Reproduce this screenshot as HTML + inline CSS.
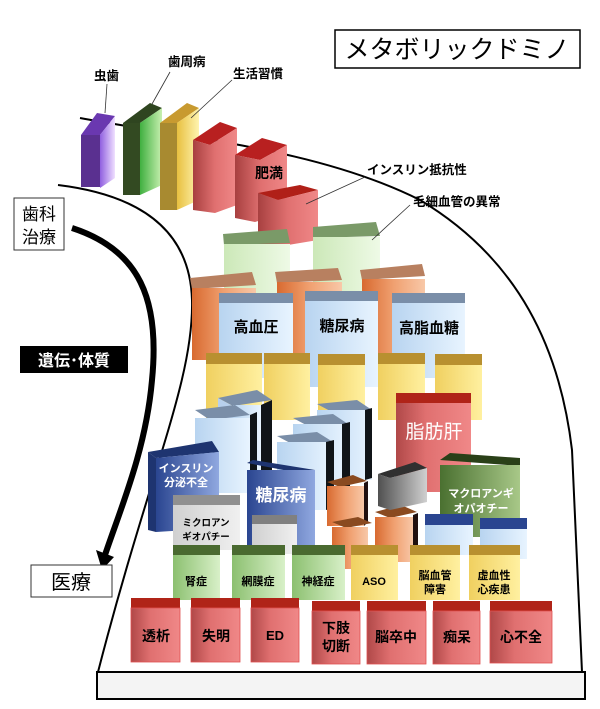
<!DOCTYPE html>
<html><head><meta charset="utf-8"><style>
body{margin:0;background:#fff}
svg{display:block}
text{font-family:"Liberation Sans","Noto Sans CJK JP",sans-serif}
</style></head><body>
<svg width="600" height="709" viewBox="0 0 600 709" xmlns="http://www.w3.org/2000/svg">
<defs>
<linearGradient id="gP" x1="0" x2="1"><stop offset="0" stop-color="#9060e0"/><stop offset="1" stop-color="#f0e0ff"/></linearGradient>
<linearGradient id="gG" x1="0" x2="1"><stop offset="0" stop-color="#40b040"/><stop offset="1" stop-color="#c8f0b0"/></linearGradient>
<linearGradient id="gY" x1="0" x2="1"><stop offset="0" stop-color="#e8c040"/><stop offset="1" stop-color="#fff4b0"/></linearGradient>
<linearGradient id="gR" x1="0" x2="1"><stop offset="0" stop-color="#a84040"/><stop offset="0.5" stop-color="#e07070"/><stop offset="1" stop-color="#f08888"/></linearGradient>
<linearGradient id="gLG" x1="0" x2="1"><stop offset="0" stop-color="#cce8b8"/><stop offset="1" stop-color="#eefae6"/></linearGradient>
<linearGradient id="gO" x1="0" x2="1"><stop offset="0" stop-color="#d86a30"/><stop offset="0.5" stop-color="#f0a070"/><stop offset="1" stop-color="#f8c8a8"/></linearGradient>
<linearGradient id="gB" x1="0" x2="1"><stop offset="0" stop-color="#b8d4f0"/><stop offset="1" stop-color="#e8f4ff"/></linearGradient>
<linearGradient id="gYe" x1="0" x2="1"><stop offset="0" stop-color="#f0d060"/><stop offset="1" stop-color="#fff0a0"/></linearGradient>
<linearGradient id="gN" x1="0" x2="1"><stop offset="0" stop-color="#2a4590"/><stop offset="1" stop-color="#90a8e0"/></linearGradient>
<linearGradient id="gGr" x1="0" x2="1"><stop offset="0" stop-color="#d0d0d0"/><stop offset="1" stop-color="#f0f0f0"/></linearGradient>
<linearGradient id="gDG" x1="0" x2="1"><stop offset="0" stop-color="#505050"/><stop offset="1" stop-color="#d0d0d0"/></linearGradient>
<linearGradient id="gMG" x1="0" x2="1"><stop offset="0" stop-color="#4a7030"/><stop offset="1" stop-color="#a8c888"/></linearGradient>
<linearGradient id="gGn" x1="0" x2="1"><stop offset="0" stop-color="#8cc070"/><stop offset="1" stop-color="#d8f0c8"/></linearGradient>
<linearGradient id="gRd" x1="0" x2="1"><stop offset="0" stop-color="#b04848"/><stop offset="0.4" stop-color="#e07070"/><stop offset="1" stop-color="#f08888"/></linearGradient>
</defs>

<path d="M80,118 C200,140 320,150 420,200 C520,260 560,350 572,450 L582,672" fill="none" stroke="#000" stroke-width="2"/>
<path d="M58,185 C140,195 190,230 192,300 C194,380 150,470 98,672" fill="none" stroke="#000" stroke-width="2"/>
<path d="M72,228 C140,250 160,300 152,380 C146,450 120,510 105,555" fill="none" stroke="#000" stroke-width="6"/>
<polygon points="96,550 114,557 102,570" fill="#000"/>

<polygon points="97,672 585,672 585,699 97,699" fill="#f4f4f4" stroke="#000" stroke-width="2"/>

<polygon points="81,135 97,113 115,116 100,135" fill="#6a38b0"/>
<rect x="81" y="135" width="19" height="52" fill="#5a3090"/>
<polygon points="100,135 115,116 115,178 100,188" fill="url(#gP)"/>

<polygon points="123,123 150,103 162,108 140,123" fill="#2f4520"/>
<rect x="123" y="123" width="17" height="72" fill="#334a22"/>
<polygon points="140,123 162,108 162,185 140,195" fill="url(#gG)"/>

<polygon points="160,123 187,103 199,108 177,123" fill="#c89a30"/>
<rect x="160" y="123" width="17" height="87" fill="#a88a30"/>
<polygon points="177,123 199,108 199,200 177,210" fill="url(#gY)"/>

<polygon points="193,140 220,122 237,128 210,145" fill="#b82020"/>
<polygon points="193,140 210,145 237,128 237,205 215,213 193,210" fill="url(#gR)"/>

<polygon points="235,155 262,138 287,145 260,160" fill="#b82020"/>
<polygon points="235,155 260,160 287,145 287,212 255,222 235,218" fill="url(#gR)"/>

<polygon points="258,193 300,185 318,190 278,200" fill="#b02018"/>
<polygon points="258,193 278,200 318,190 318,240 258,250" fill="url(#gR)"/>

<polygon points="223,234 287,229 290,243 224,245" fill="#7a9a68"/>
<rect x="224" y="244" width="66" height="56" fill="url(#gLG)"/>
<polygon points="313,227 376,222 380,236 313,238" fill="#7a9a68"/>
<rect x="313" y="237" width="67" height="63" fill="url(#gLG)"/>

<polygon points="190,278 252,272 256,285 192,289" fill="#b88060"/>
<rect x="192" y="288" width="64" height="72" fill="url(#gO)"/>
<polygon points="275,272 338,268 342,280 277,283" fill="#b88060"/>
<rect x="277" y="282" width="65" height="78" fill="url(#gO)"/>
<polygon points="360,270 422,264 425,276 362,280" fill="#b88060"/>
<rect x="362" y="279" width="63" height="81" fill="url(#gO)"/>

<g font-weight="bold">
<rect x="219" y="293" width="74" height="10" fill="#7a8ea8"/>
<rect x="219" y="303" width="74" height="75" fill="url(#gB)"/>
<text x="256" y="332" font-size="15" text-anchor="middle">高血圧</text>
<rect x="305" y="291" width="73" height="10" fill="#7a8ea8"/>
<rect x="305" y="301" width="73" height="86" fill="url(#gB)"/>
<text x="342" y="331" font-size="15" text-anchor="middle">糖尿病</text>
<rect x="392" y="293" width="73" height="10" fill="#7a8ea8"/>
<rect x="392" y="303" width="73" height="75" fill="url(#gB)"/>
<text x="429" y="333" font-size="15" text-anchor="middle">高脂血糖</text>
</g>

<g>
<rect x="206" y="353" width="56" height="11" fill="#b89030"/><rect x="206" y="364" width="56" height="56" fill="url(#gYe)"/>
<rect x="264" y="353" width="46" height="11" fill="#b89030"/><rect x="264" y="364" width="46" height="56" fill="url(#gYe)"/>
<rect x="318" y="354" width="47" height="11" fill="#b89030"/><rect x="318" y="365" width="47" height="55" fill="url(#gYe)"/>
<rect x="378" y="353" width="47" height="11" fill="#b89030"/><rect x="378" y="364" width="47" height="56" fill="url(#gYe)"/>
<rect x="435" y="354" width="47" height="11" fill="#b89030"/><rect x="435" y="365" width="47" height="55" fill="url(#gYe)"/>
</g>

<rect x="396" y="393" width="75" height="10" fill="#b02418"/>
<rect x="396" y="403" width="75" height="89" fill="url(#gRd)"/>
<text x="434" y="438" font-size="19" fill="#fff" text-anchor="middle">脂肪肝</text>

<g>
<polygon points="218,398 257,390 272,400 233,406" fill="#7a8ea8"/>
<rect x="233" y="405" width="28" height="75" fill="url(#gB)"/>
<polygon points="218,398 233,406 233,480 218,480" fill="#b8d0ec"/>
<polygon points="261,405 272,400 272,478 261,482" fill="#101418"/>
<polygon points="195,410 235,405 250,415 210,420" fill="#7a8ea8"/>
<rect x="195" y="418" width="55" height="75" fill="url(#gB)"/>
<polygon points="250,415 257,412 257,490 250,493" fill="#101418"/>
<polygon points="317,404 357,400 372,410 332,412" fill="#7a8ea8"/>
<rect x="317" y="410" width="55" height="70" fill="url(#gB)"/>
<polygon points="365,410 372,408 372,478 365,480" fill="#101418"/>
<polygon points="293,418 333,414 348,424 308,426" fill="#7a8ea8"/>
<rect x="293" y="424" width="55" height="70" fill="url(#gB)"/>
<polygon points="342,424 350,422 350,492 342,494" fill="#101418"/>
<polygon points="277,436 317,432 333,442 292,444" fill="#7a8ea8"/>
<rect x="277" y="442" width="55" height="68" fill="url(#gB)"/>
<polygon points="326,442 334,440 334,508 326,510" fill="#101418"/>
</g>

<polygon points="148,452 212,441 219,452 156,458" fill="#1e3470"/>
<polygon points="148,452 156,458 156,532 148,530" fill="#1e3470"/>
<polygon points="156,458 219,452 219,528 156,532" fill="url(#gN)"/>
<text x="186" y="472" font-size="11" font-weight="bold" fill="#fff" text-anchor="middle">インスリン</text>
<text x="186" y="486" font-size="11" font-weight="bold" fill="#fff" text-anchor="middle">分泌不全</text>

<polygon points="327,482 353,475 367,481 340,487" fill="#8a4a20"/>
<rect x="327" y="486" width="37" height="40" fill="url(#gO)"/>
<polygon points="364,483 368,481 368,522 364,526" fill="#201010"/>
<polygon points="375,512 401,505 417,512 390,518" fill="#8a4a20"/>
<rect x="375" y="517" width="38" height="45" fill="url(#gO)"/>
<polygon points="413,515 418,513 418,558 413,562" fill="#201010"/>
<polygon points="332,522 358,517 372,523 346,528" fill="#8a4a20"/>
<rect x="332" y="527" width="36" height="42" fill="url(#gO)"/>

<polygon points="378,474 415,462 427,468 390,478" fill="#303030"/>
<polygon points="378,474 390,478 427,468 427,502 390,510 378,506" fill="url(#gDG)"/>

<polygon points="440,460 450,453 520,458 520,466" fill="#2a4018"/>
<rect x="440" y="465" width="80" height="72" fill="url(#gMG)"/>
<text x="481" y="497" font-size="11" font-weight="bold" fill="#fff" text-anchor="middle">マクロアンギ</text>
<text x="481" y="512" font-size="11" font-weight="bold" fill="#fff" text-anchor="middle">オパオチー</text>

<rect x="425" y="514" width="48" height="11" fill="#2a4590"/><rect x="425" y="525" width="48" height="30" fill="url(#gB)"/>
<rect x="480" y="518" width="47" height="11" fill="#2a4590"/><rect x="480" y="529" width="47" height="30" fill="url(#gB)"/>

<polygon points="247,463 253,460 315,470 315,476" fill="#1e3470"/>
<rect x="247" y="470" width="68" height="75" fill="url(#gN)"/>
<text x="281" y="501" font-size="17" font-weight="bold" fill="#fff" text-anchor="middle">糖尿病</text>

<rect x="173" y="495" width="67" height="10" fill="#909090"/>
<rect x="173" y="505" width="67" height="45" fill="url(#gGr)"/>
<text x="206" y="526" font-size="9.5" font-weight="bold" text-anchor="middle">ミクロアン</text>
<text x="206" y="540" font-size="9.5" font-weight="bold" text-anchor="middle">ギオパチー</text>
<rect x="252" y="515" width="45" height="9" fill="#808080"/>
<rect x="252" y="524" width="45" height="30" fill="url(#gGr)"/>

<g font-size="11" font-weight="bold" text-anchor="middle">
<rect x="173" y="545" width="47" height="10" fill="#4a6a30"/><rect x="173" y="555" width="47" height="45" fill="url(#gGn)"/>
<text x="196" y="585">腎症</text>
<rect x="232" y="545" width="53" height="10" fill="#4a6a30"/><rect x="232" y="555" width="53" height="45" fill="url(#gGn)"/>
<text x="258" y="585">網膜症</text>
<rect x="292" y="545" width="53" height="10" fill="#4a6a30"/><rect x="292" y="555" width="53" height="45" fill="url(#gGn)"/>
<text x="318" y="585">神経症</text>
<rect x="351" y="545" width="47" height="10" fill="#b89030"/><rect x="351" y="555" width="47" height="45" fill="url(#gYe)"/>
<text x="374" y="585">ASO</text>
<rect x="410" y="545" width="50" height="10" fill="#b89030"/><rect x="410" y="555" width="50" height="45" fill="url(#gYe)"/>
<text x="435" y="579">脳血管</text><text x="435" y="593">障害</text>
<rect x="469" y="545" width="51" height="10" fill="#b89030"/><rect x="469" y="555" width="51" height="45" fill="url(#gYe)"/>
<text x="494" y="579">虚血性</text><text x="494" y="593">心疾患</text>
</g>

<g font-size="14" font-weight="bold" text-anchor="middle">
<rect x="131" y="598" width="49" height="10" fill="#b02418"/><rect x="131" y="608" width="49" height="54" fill="url(#gRd)" stroke="#e05050" stroke-width="0.8"/>
<text x="156" y="641">透析</text>
<rect x="191" y="598" width="49" height="10" fill="#b02418"/><rect x="191" y="608" width="49" height="54" fill="url(#gRd)" stroke="#e05050" stroke-width="0.8"/>
<text x="216" y="641">失明</text>
<rect x="251" y="598" width="48" height="10" fill="#b02418"/><rect x="251" y="608" width="48" height="54" fill="url(#gRd)" stroke="#e05050" stroke-width="0.8"/>
<text x="275" y="640" font-size="13">ED</text>
<rect x="312" y="601" width="48" height="10" fill="#b02418"/><rect x="312" y="611" width="48" height="53" fill="url(#gRd)" stroke="#e05050" stroke-width="0.8"/>
<text x="336" y="633">下肢</text><text x="336" y="651">切断</text>
<rect x="367" y="601" width="59" height="10" fill="#b02418"/><rect x="367" y="611" width="59" height="53" fill="url(#gRd)" stroke="#e05050" stroke-width="0.8"/>
<text x="396" y="642">脳卒中</text>
<rect x="433" y="601" width="47" height="10" fill="#b02418"/><rect x="433" y="611" width="47" height="53" fill="url(#gRd)" stroke="#e05050" stroke-width="0.8"/>
<text x="457" y="642">痴呆</text>
<rect x="490" y="601" width="62" height="10" fill="#b02418"/><rect x="490" y="611" width="62" height="52" fill="url(#gRd)" stroke="#e05050" stroke-width="0.8"/>
<text x="521" y="642">心不全</text>
</g>

<g stroke="#333" stroke-width="0.8">
<line x1="107" y1="84" x2="105" y2="113"/>
<line x1="170" y1="72" x2="152" y2="104"/>
<line x1="232" y1="80" x2="191" y2="118"/>
<line x1="365" y1="177" x2="306" y2="204"/>
<line x1="410" y1="205" x2="372" y2="240"/>
</g>
<g font-size="12.5" font-weight="bold">
<text x="94" y="80">虫歯</text>
<text x="168" y="66">歯周病</text>
<text x="233" y="78">生活習慣</text>
<text x="367" y="174">インスリン抵抗性</text>
<text x="413" y="206">毛細血管の異常</text>
</g>
<text x="255" y="178" font-size="14" font-weight="bold">肥満</text>

<rect x="335" y="30" width="245" height="38" fill="#fff" stroke="#000" stroke-width="1.5"/>
<text x="457" y="58" font-size="25" text-anchor="middle">メタボリックドミノ</text>

<rect x="14" y="198" width="50" height="52" fill="#fff" stroke="#333" stroke-width="1"/>
<text x="39" y="220" font-size="17" text-anchor="middle">歯科</text>
<text x="39" y="243" font-size="17" text-anchor="middle">治療</text>

<rect x="20" y="346" width="108" height="27" fill="#000"/>
<text x="74" y="366" font-size="16" font-weight="bold" fill="#fff" text-anchor="middle">遺伝･体質</text>

<rect x="31" y="565" width="81" height="32" fill="#fff" stroke="#333" stroke-width="1"/>
<text x="71" y="589" font-size="20" text-anchor="middle">医療</text>
</svg>
</body></html>
